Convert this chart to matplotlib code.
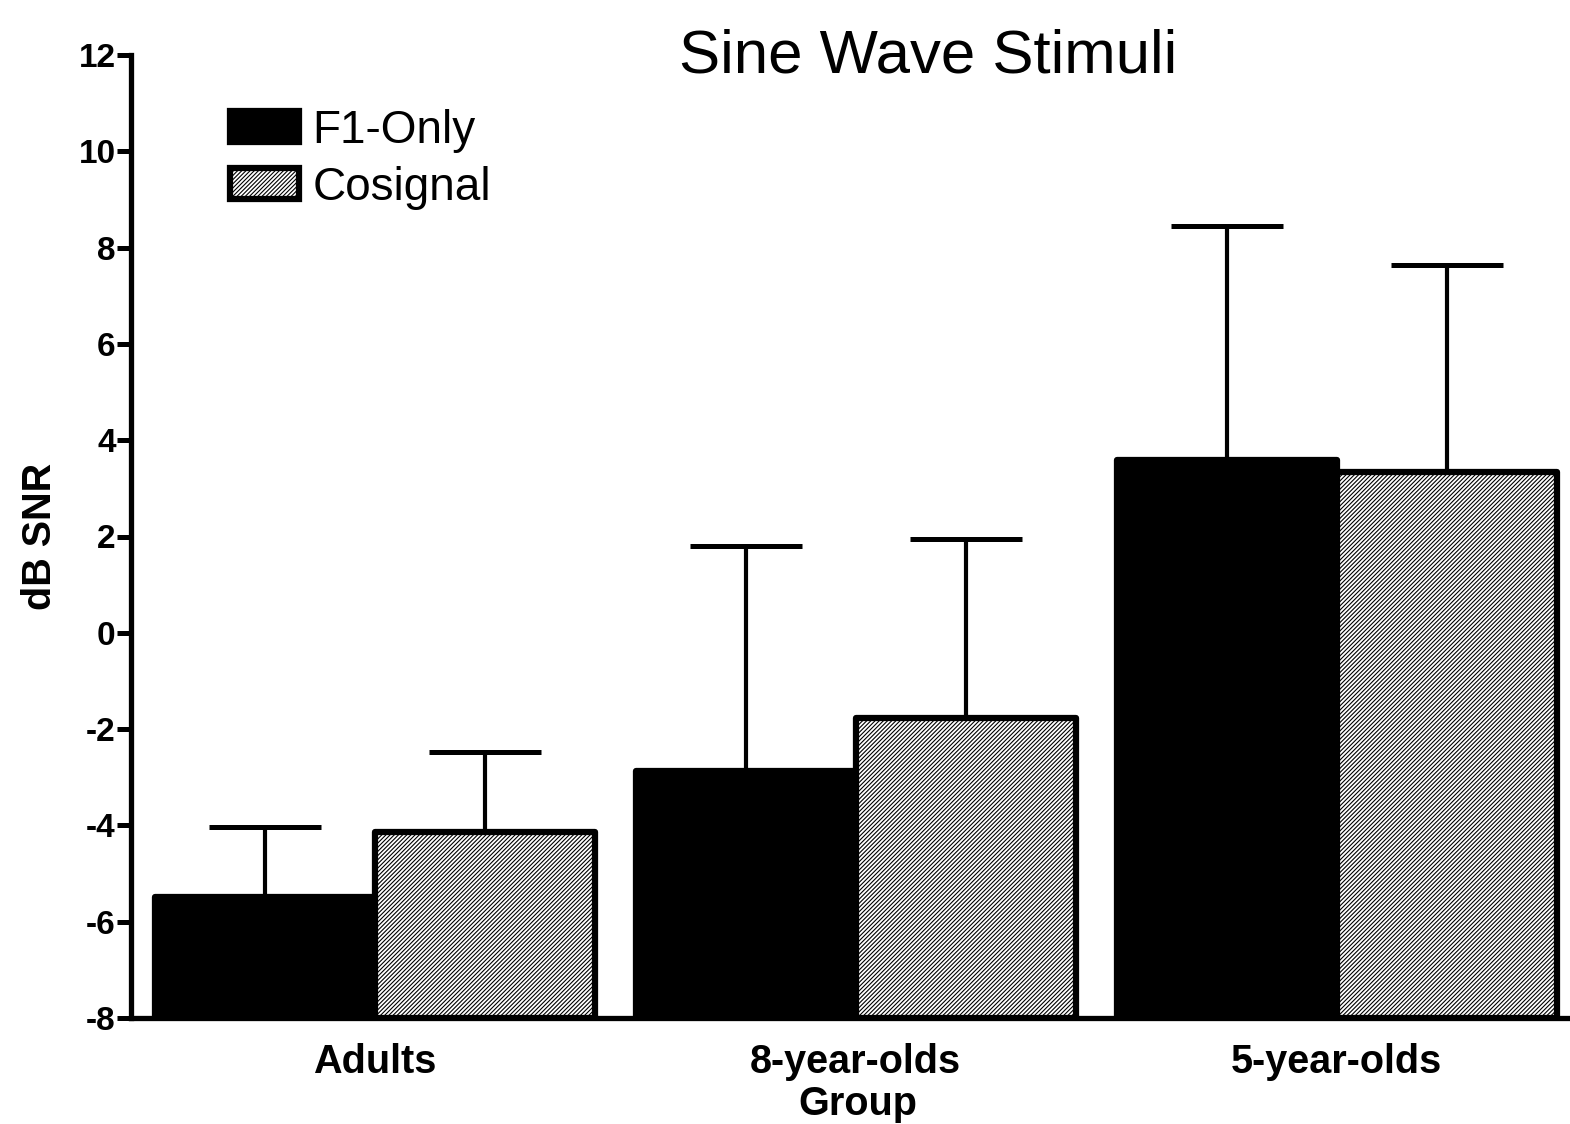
import matplotlib
matplotlib.use("Agg")
import matplotlib.pyplot as plt
import numpy as np

plt.rcParams['font.family'] = ['Liberation Sans', 'DejaVu Sans']
plt.rcParams['hatch.linewidth'] = 0.8
plt.rcParams['axes.unicode_minus'] = False

groups = ["Adults", "8-year-olds", "5-year-olds"]
f1_only = [-5.49, -2.87, 3.59]
f1_err = [1.46, 4.67, 4.86]
cosignal = [-4.14, -1.77, 3.34]
cos_err = [1.66, 3.72, 4.30]

fig = plt.figure(figsize=(15.7, 11.24), dpi=100)
ax = fig.add_axes([131/1570, 1 - 1018/1124, 1 - 131/1570, (1018 - 55)/1124])

x = np.arange(len(groups))
w = 0.457
ax.errorbar(x - w/2, f1_only, yerr=[np.zeros(3), f1_err], fmt='none', ecolor='black',
            elinewidth=3, capsize=40, capthick=3.6, zorder=1)
ax.errorbar(x + w/2, cosignal, yerr=[np.zeros(3), cos_err], fmt='none', ecolor='black',
            elinewidth=3, capsize=40, capthick=3.6, zorder=1)
ax.bar(x - w/2, np.array(f1_only) + 8, bottom=-8, width=w, color='black', edgecolor='black',
       linewidth=4.5, label='F1-Only', zorder=2, joinstyle='round')
ax.bar(x + w/2, np.array(cosignal) + 8, bottom=-8, width=w, color='white', edgecolor='black',
       linewidth=4.5, hatch='////////', label='Cosignal', zorder=2, joinstyle='round')

ax.set_xlim(-0.507, 2.485)
ax.set_ylim(-8, 12)
ax.set_yticks(np.arange(-8, 13, 2))
ax.set_xticks(x)
ax.set_xticklabels(groups, fontsize=28.5, fontweight='bold')
ax.tick_params(axis='x', length=0, pad=18)
ax.tick_params(axis='y', length=10, width=3.6, labelsize=24, pad=1, direction='out')
for t in ax.get_yticklabels():
    t.set_fontweight('bold')
for s in ['top', 'right']:
    ax.spines[s].set_visible(False)
for s in ['left', 'bottom']:
    ax.spines[s].set_linewidth(3.8)
ax.set_ylabel('dB SNR', fontsize=28.5, fontweight='bold', labelpad=14)
ax.set_xlabel('Group', fontsize=28.5, fontweight='bold', labelpad=0)
ax.xaxis.set_label_coords(0.505, -0.07)

fig.text(928/1570, 1 - 57/1124, 'Sine Wave Stimuli', fontsize=44.5, ha='center', va='center')

leg = ax.legend(loc='upper left', bbox_to_anchor=(0.053, 0.968), frameon=False, fontsize=33,
                handlelength=1.5, handleheight=0.65, handletextpad=0.3, labelspacing=0.28,
                borderpad=0)

fig.savefig('out.png', dpi=100)
